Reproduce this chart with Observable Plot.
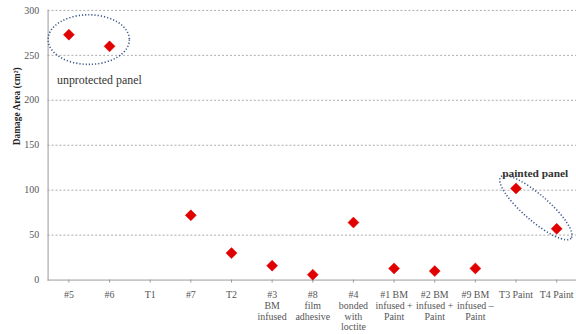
<!DOCTYPE html>
<html>
<head>
<meta charset="utf-8">
<script src="https://cdn.jsdelivr.net/npm/d3@7"></script>
<script src="https://cdn.jsdelivr.net/npm/@observablehq/plot@0.6"></script>
<style>
  html, body { margin: 0; padding: 0; background: #fff; overflow: hidden; width: 576px; height: 334px; }
  #chart svg { display: block; }
  #chart svg text { font-family: "Liberation Serif", "Times New Roman", "DejaVu Serif", serif !important; }
</style>
</head>
<body>
<div id="chart"></div>
<script>
// Categories (x tick labels) and damage area values (cm²); T1 has no value
const categories = ["#5", "#6", "T1", "#7", "T2", "#3", "#8", "#4", "#1", "#2", "#9", "T3", "T4"];
const tickLabels = ["#5", "#6", "T1", "#7", "T2", "#3\nBM\ninfused", "#8\nfilm\nadhesive", "#4\nbonded\nwith\nloctite",
  "#1 BM\ninfused +\nPaint", "#2 BM\ninfused +\nPaint", "#9 BM\ninfused –\nPaint", "T3 Paint", "T4 Paint"];
const damageArea = [273, 260, null, 72, 30, 16, 6, 64, 13, 10, 13, 102, 57];
const yTicks = [0, 50, 100, 150, 200, 250, 300];

// Annotations
const annoLabels = ["unprotected panel", "painted panel"];
const annoWeights = ["normal", "bold"];
const annoLabelX = ["#5", "T3"];
const annoLabelY = [222, 119];
const ellipseCatA = ["#5", "T3"];
const ellipseCatB = ["#6", "T4"];
const ellipseY = [267, 80];

const data = categories.map((c, i) => ({cat: c, v: damageArea[i]})).filter(d => d.v != null);
const labelMap = new Map(categories.map((c, i) => [c, tickLabels[i]]));
const annos = annoLabels.map((t, i) => ({text: t, x: annoLabelX[i], y: annoLabelY[i], w: annoWeights[i]}));
const ellipseStyle = [{rx: 41, ry: 25, rot: 0}, {rx: 47, ry: 13, rot: 41}];

const font = "Liberation Serif";

const ellipses = (index, scales) => {
  const g = d3.create("svg:g");
  ellipseCatA.forEach((a, i) => {
    const cx = (scales.x(a) + scales.x(ellipseCatB[i])) / 2;
    const cy = scales.y(ellipseY[i]);
    const s = ellipseStyle[i];
    g.append("ellipse")
      .attr("cx", 0).attr("cy", 0)
      .attr("rx", s.rx).attr("ry", s.ry)
      .attr("transform", `translate(${cx},${cy}) rotate(${s.rot})`)
      .attr("fill", "none")
      .attr("stroke", "#3b5a8c")
      .attr("stroke-width", 1.6)
      .attr("stroke-dasharray", "1.2,2");
  });
  return g.node();
};

const chart = Plot.plot({
  width: 581,
  height: 334,
  marginLeft: 48,
  marginRight: 0,
  marginTop: 10,
  marginBottom: 52,
  style: {fontSize: "10px", color: "#444", background: "#fff"},
  x: {type: "point", domain: categories, padding: 0.5, label: null},
  y: {domain: [0, 300], label: null},
  marks: [
    Plot.gridY(yTicks.filter(t => t > 0), {stroke: "#aaa", strokeOpacity: 1, strokeDasharray: "2,2"}),
    Plot.frame({anchor: "left", stroke: "#999"}),
    Plot.ruleY([0], {stroke: "#999"}),
    Plot.axisY({ticks: yTicks, tickSize: 0, tickPadding: 9, fill: "#555", fontSize: 10, fontFamily: font}),
    Plot.axisX({tickSize: 3, tickPadding: 7, stroke: "#999", fill: "#555", fontSize: 10, fontFamily: font,
      tickFormat: c => labelMap.get(c), lineHeight: 1.1, textAnchor: "middle"}),
    Plot.text(["Damage Area (cm²)"], {frameAnchor: "left", rotate: -90, dx: -31, fontWeight: "bold", fontSize: 9.5, fill: "#222", fontFamily: font}),
    Plot.dot(data, {x: "cat", y: "v", symbol: "diamond2", r: 5, fill: "#e00000", stroke: "#e00000", strokeWidth: 0.5}),
    ellipses,
    Plot.text(annos.filter(d => d.w === "normal"), {x: "x", y: "y", text: "text", textAnchor: "start", dx: -12, fontSize: 12, fill: "#333", fontFamily: font}),
    Plot.text(annos.filter(d => d.w === "bold"), {x: "x", y: "y", text: "text", textAnchor: "start", dx: -14, fontSize: 11.5, fontWeight: "bold", fill: "#333", fontFamily: font})
  ]
});
document.getElementById("chart").append(chart);
</script>
</body>
</html>
